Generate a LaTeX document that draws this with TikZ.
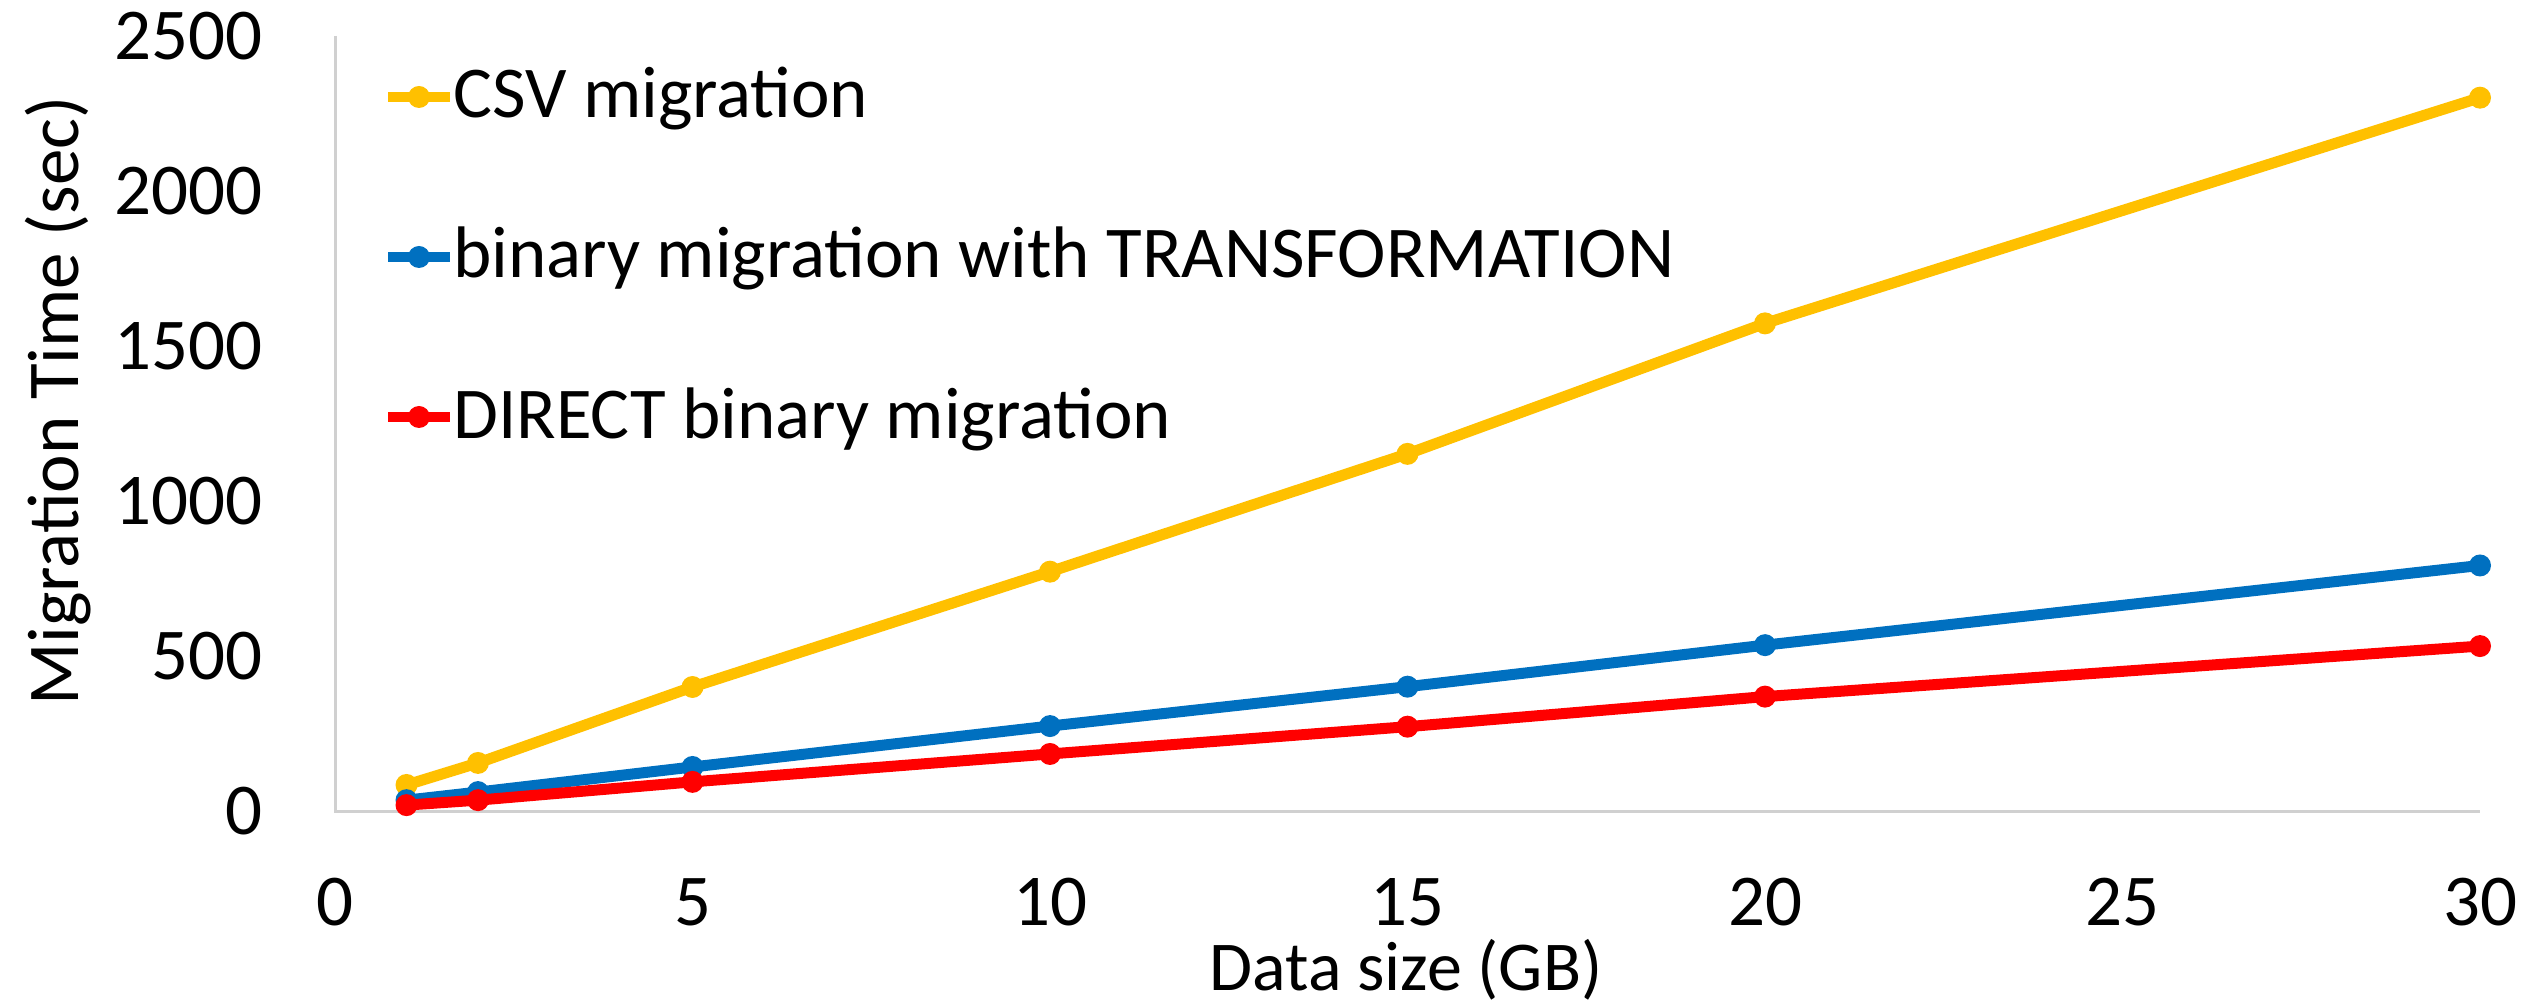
\documentclass[tikz,border=0pt]{standalone}
\usepackage{fontspec}
\setmainfont{Carlito}
\definecolor{csvcol}{HTML}{FFC000}
\definecolor{bincol}{HTML}{0070C0}
\definecolor{dircol}{HTML}{FF0000}
\definecolor{axiscol}{HTML}{D0D0D0}
\newcommand\chartfont{\fontsize{73}{88}\selectfont}
\newcommand\titlefont{\fontsize{70}{84}\selectfont}
\tikzset{
  lbl/.style={inner sep=0pt, font=\chartfont, text=black},
  series/.style={line width=11pt, line join=round, line cap=round},
  mk/.style={circle, inner sep=0pt, minimum size=22pt, fill=#1, draw=none},
  axisline/.style={draw=axiscol, line width=3pt},
}
\begin{document}
\begin{tikzpicture}[x=1pt,y=1pt]
\useasboundingbox (0,0) rectangle (2534,1007);
% axis titles
\node[lbl, rotate=90, anchor=base] (ytitle) at (78,606) {Migration Time (sec)};
\node[lbl, font=\titlefont, anchor=base] (xtitle) at (1406,17) {Data size (GB)};
\begin{scope}[shift={(335,196)}, x=71.5pt, y=0.31pt]
  \coordinate (o) at (0,0);
  \coordinate (ytop) at (0,2500);
  \coordinate (xend) at (30,0);
  \draw[axisline] (ytop) -- (o) -- (xend);
  % y tick labels
  \foreach \v in {0,500,1000,1500,2000,2500}
    \node[lbl, anchor=east] (yt\v) at ([xshift=-72pt]0,\v) {\v};
  % x tick labels
  \foreach \v in {0,5,10,15,20,25,30}
    \node[lbl] (xt\v) at ([yshift=-91pt]\v,0) {\v};
  % CSV
  \foreach \n/\px/\py in {1/1/84,2/2/155,3/5/400,4/10/772,5/15/1152,6/20/1573,7/30/2301}
    \coordinate (c\n) at (\px,\py);
  \draw[series, csvcol] (c1) -- (c2) -- (c3) -- (c4) -- (c5) -- (c6) -- (c7);
  \foreach \n in {1,...,7} \node[mk=csvcol] (mc\n) at (c\n) {};
  % binary with transformation
  \foreach \n/\px/\py in {1/1/35,2/2/61,3/5/142,4/10/274,5/15/401,6/20/535,7/30/792}
    \coordinate (b\n) at (\px,\py);
  \draw[series, bincol] (b1) -- (b2) -- (b3) -- (b4) -- (b5) -- (b6) -- (b7);
  \foreach \n in {1,...,7} \node[mk=bincol] (mb\n) at (b\n) {};
  % direct
  \foreach \n/\px/\py in {1/1/19,2/2/35,3/5/94,4/10/184,5/15/272,6/20/369,7/30/532}
    \coordinate (d\n) at (\px,\py);
  \draw[series, dircol] (d1) -- (d2) -- (d3) -- (d4) -- (d5) -- (d6) -- (d7);
  \foreach \n in {1,...,7} \node[mk=dircol] (md\n) at (d\n) {};
\end{scope}
% legend
\coordinate (l1a) at (388,910); \coordinate (l1b) at (450,910);
\coordinate (l2a) at (388,750); \coordinate (l2b) at (450,750);
\coordinate (l3a) at (388,590); \coordinate (l3b) at (450,590);
\draw[line width=10pt, csvcol] (l1a) -- (l1b);
\node[mk=csvcol] (lm1) at (419,910) {};
\draw[line width=10pt, bincol] (l2a) -- (l2b);
\node[mk=bincol] (lm2) at (419,750) {};
\draw[line width=10pt, dircol] (l3a) -- (l3b);
\node[mk=dircol] (lm3) at (419,590) {};
\node[lbl, anchor=base west] (leg1) at (453,889) {CSV migration};
\node[lbl, anchor=base west] (leg2) at (453,729) {binary migration with TRANSFORMATION};
\node[lbl, anchor=base west] (leg3) at (453,568) {DIRECT binary migration};
\end{tikzpicture}
\end{document}
